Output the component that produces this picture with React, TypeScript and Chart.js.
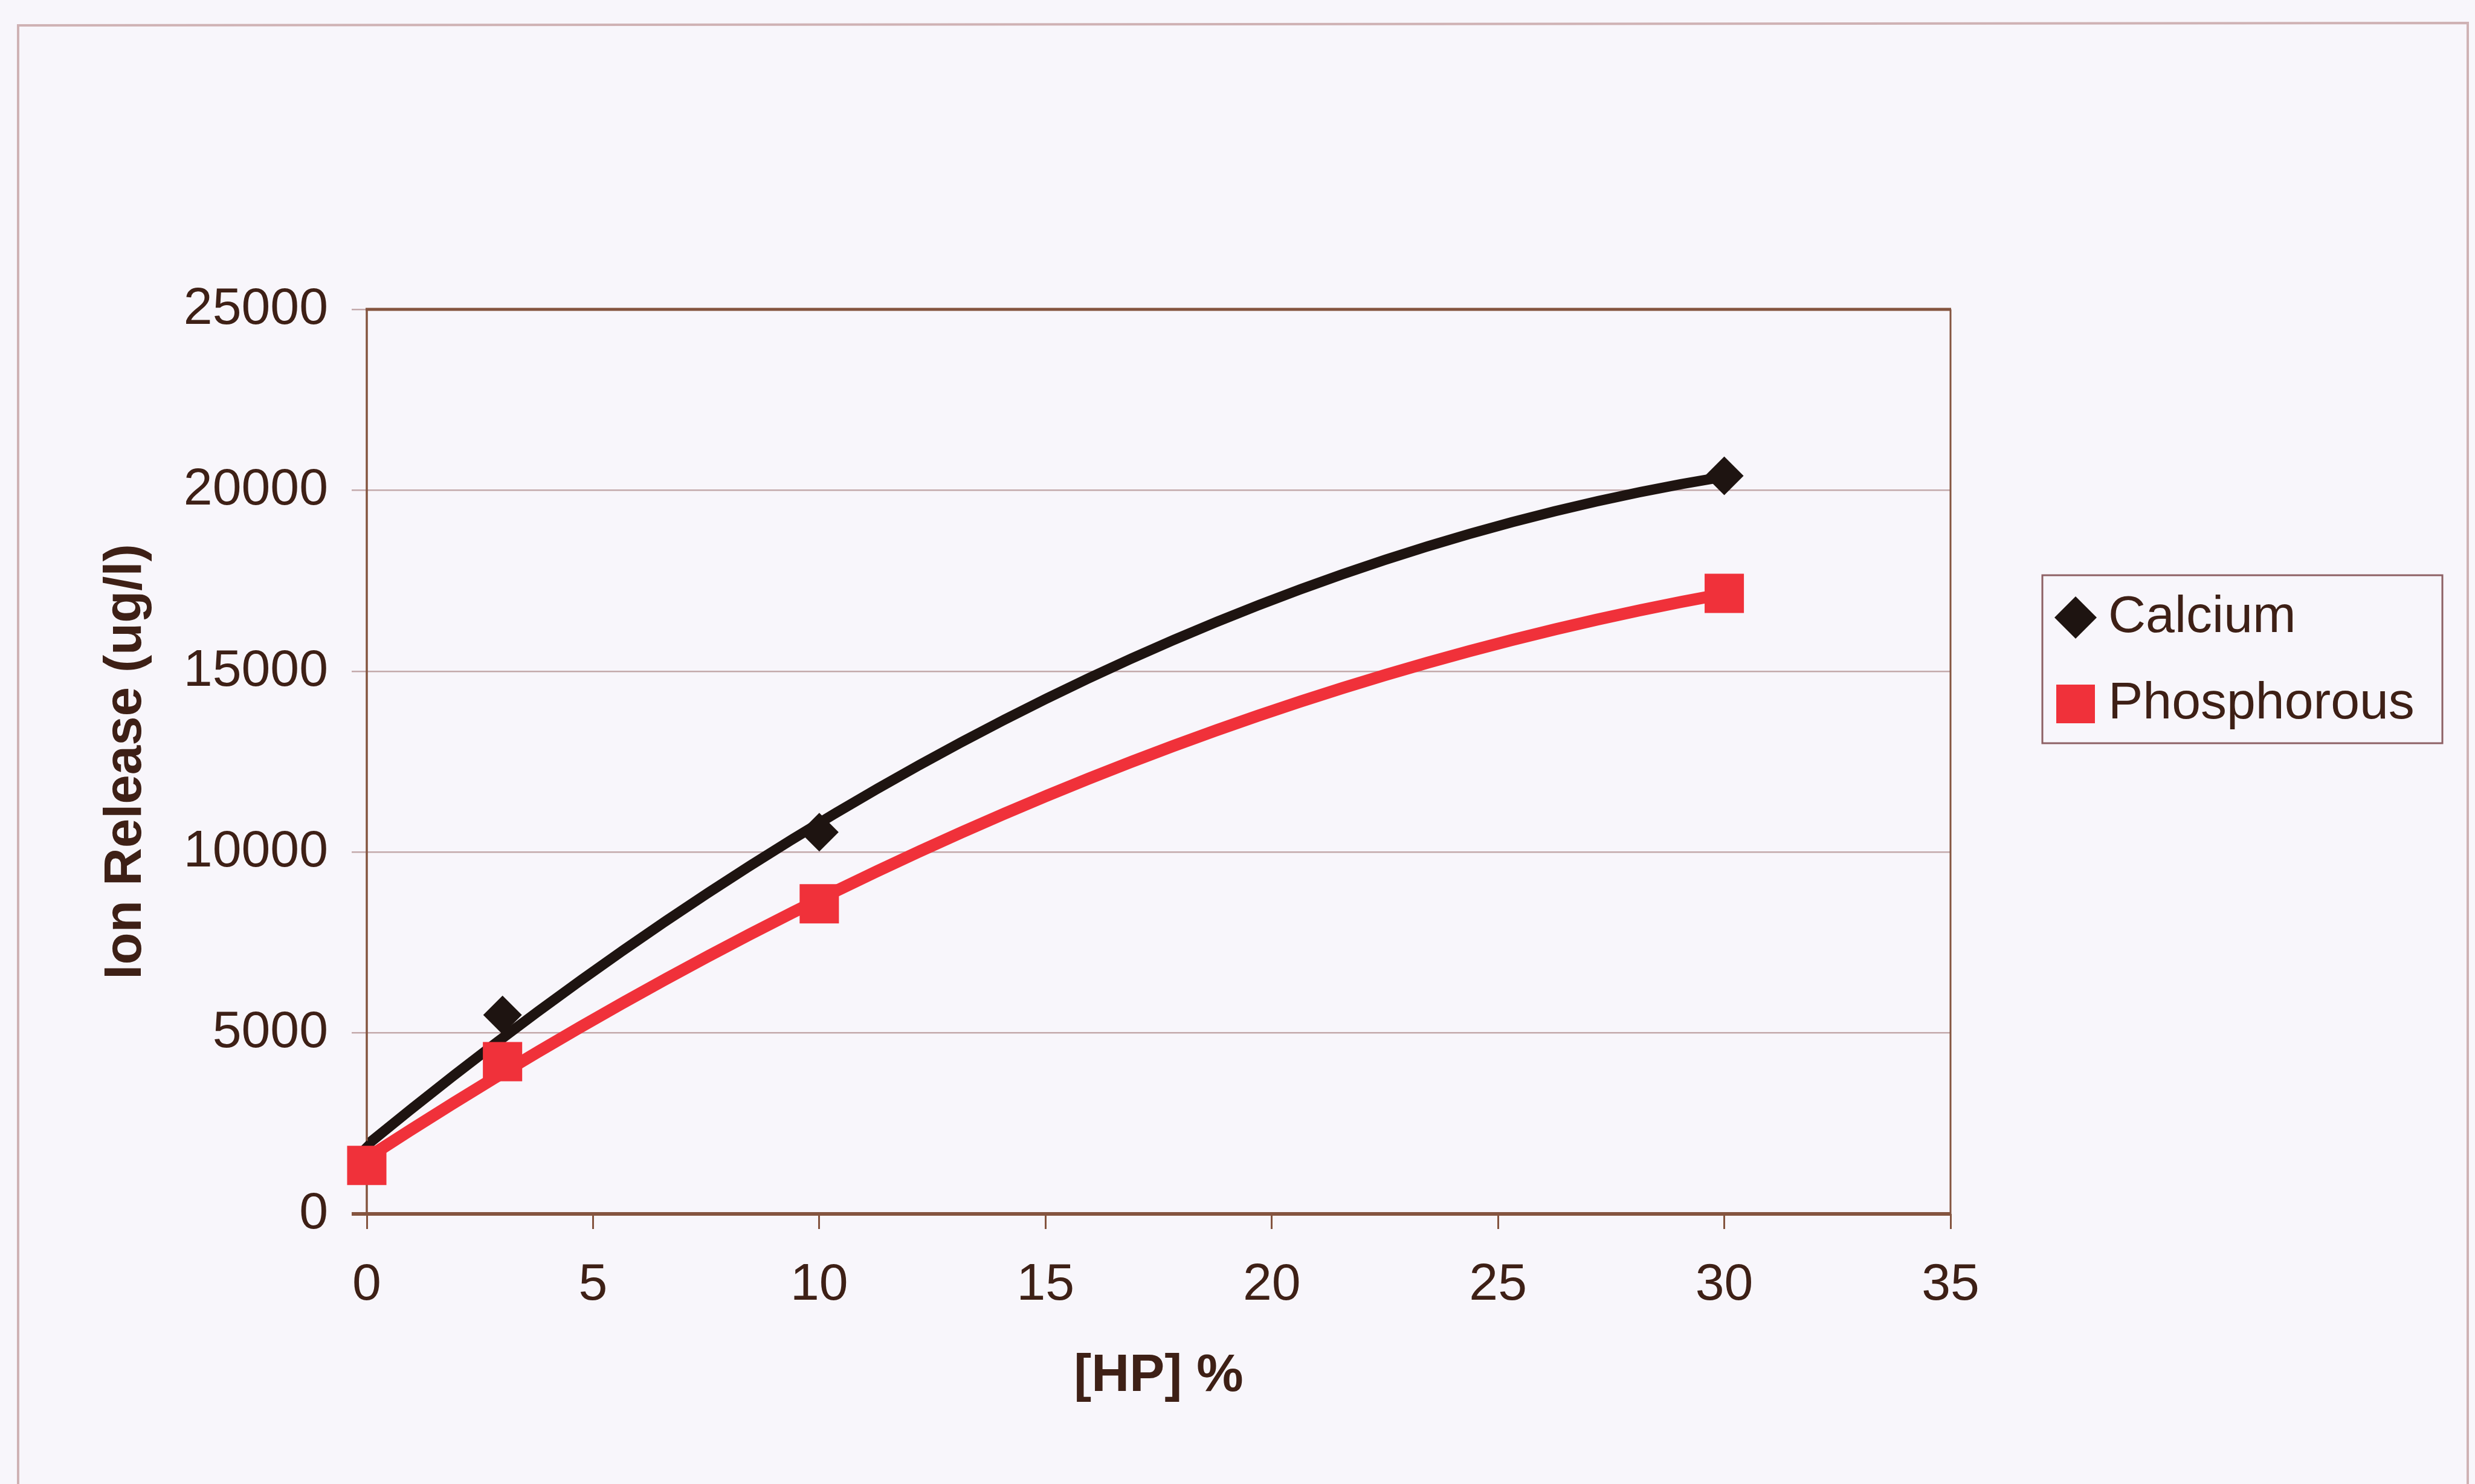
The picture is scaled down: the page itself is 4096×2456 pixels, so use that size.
import React, { useEffect, useRef } from "react";
import { Chart, registerables } from "chart.js";

Chart.register(...registerables);

// Hydrogen peroxide concentration (%) for each sample
const hpPercent = [0, 3, 10, 30];
// Measured ion release (ug/l)
const calcium = [1500, 5500, 10550, 20400];
const phosphorous = [1340, 4210, 8570, 17150];
const seriesNames = ["Calcium", "Phosphorous"];

// Axis ranges and tick steps
const xAxisRange = [0, 35];
const xAxisStep = 5;
const yAxisRange = [0, 25000];
const yAxisStep = 5000;

const axisTitles = { x: "[HP] %", y: "Ion Release (ug/l)" };

const FONT = "'Liberation Sans', Arial, Helvetica, sans-serif";
const TEXT = "#3e2016";
const AXIS = "#84543f";
const GRID = "#c3a9ab";
const BLACK = "#1e1411";
const RED = "#f0313a";

// Second-order least-squares trendline, as the spreadsheet draws it
function quadFit(xs: number[], ys: number[]): [number, number, number] {
  let n = xs.length, s1 = 0, s2 = 0, s3 = 0, s4 = 0, t0 = 0, t1 = 0, t2 = 0;
  for (let i = 0; i < xs.length; i++) {
    const x = xs[i], y = ys[i];
    s1 += x; s2 += x * x; s3 += x * x * x; s4 += x * x * x * x;
    t0 += y; t1 += x * y; t2 += x * x * y;
  }
  const det = (m: number[][]) =>
    m[0][0] * (m[1][1] * m[2][2] - m[1][2] * m[2][1]) -
    m[0][1] * (m[1][0] * m[2][2] - m[1][2] * m[2][0]) +
    m[0][2] * (m[1][0] * m[2][1] - m[1][1] * m[2][0]);
  const M = [[n, s1, s2], [s1, s2, s3], [s2, s3, s4]];
  const v = [t0, t1, t2];
  const D = det(M);
  const col = (k: number) => M.map((row, r) => row.map((val, c) => (c === k ? v[r] : val)));
  return [det(col(0)) / D, det(col(1)) / D, det(col(2)) / D];
}

const trendColors = [BLACK, RED];
const trendWidths = [17, 20];

const pagePlugin = {
  id: "pageFrame",
  beforeDraw(chart: any) {
    const { ctx, width, height } = chart;
    ctx.save();
    ctx.fillStyle = "#f8f6fb";
    ctx.fillRect(0, 0, width, height);
    ctx.strokeStyle = "#cfb2b4";
    ctx.lineWidth = 4;
    ctx.beginPath();
    ctx.moveTo(30, height);
    ctx.lineTo(30, 42);
    ctx.lineTo(4084, 38);
    ctx.lineTo(4084, height);
    ctx.stroke();
    ctx.restore();
  },
};

const trendlinePlugin = {
  id: "trendlines",
  beforeDatasetsDraw(chart: any) {
    const { ctx, chartArea, scales } = chart;
    const xs = scales.x, ys = scales.y;
    ctx.save();
    ctx.beginPath();
    ctx.rect(chartArea.left, chartArea.top, chartArea.right - chartArea.left, chartArea.bottom - chartArea.top);
    ctx.clip();
    chart.data.datasets.forEach((ds: any, i: number) => {
      const px = ds.data.map((p: any) => p.x);
      const py = ds.data.map((p: any) => p.y);
      const [a, b, c] = quadFit(px, py);
      const f = (t: number) => a + b * t + c * t * t;
      const x0 = Math.min(...px), x1 = Math.max(...px);
      const xm = (x0 + x1) / 2;
      const ym = f(x0) + (b + 2 * c * x0) * (x1 - x0) / 2;
      ctx.beginPath();
      ctx.moveTo(xs.getPixelForValue(x0), ys.getPixelForValue(f(x0)));
      ctx.quadraticCurveTo(
        xs.getPixelForValue(xm), ys.getPixelForValue(ym),
        xs.getPixelForValue(x1), ys.getPixelForValue(f(x1))
      );
      ctx.strokeStyle = trendColors[i];
      ctx.lineWidth = trendWidths[i];
      ctx.lineCap = "butt";
      ctx.stroke();
    });
    ctx.restore();

    // plot area frame
    const { left, right, top, bottom } = chartArea;
    ctx.save();
    ctx.strokeStyle = AXIS;
    ctx.lineWidth = 5;
    ctx.beginPath(); ctx.moveTo(left - 2, top); ctx.lineTo(right + 1, top); ctx.stroke();
    ctx.lineWidth = 3;
    ctx.beginPath(); ctx.moveTo(right, top); ctx.lineTo(right, bottom); ctx.stroke();
    ctx.lineWidth = 3.5;
    ctx.beginPath(); ctx.moveTo(left, top); ctx.lineTo(left, bottom); ctx.stroke();
    ctx.lineWidth = 6;
    ctx.beginPath(); ctx.moveTo(left - 25, bottom); ctx.lineTo(right + 1, bottom); ctx.stroke();
    ctx.restore();
  },
};

const legendPlugin = {
  id: "boxedLegend",
  afterDraw(chart: any) {
    const { ctx } = chart;
    ctx.save();
    ctx.strokeStyle = "#8d6064";
    ctx.lineWidth = 3;
    ctx.strokeRect(3380, 952, 662, 278);
    const rows = [1022, 1165];
    chart.data.datasets.forEach((ds: any, i: number) => {
      const cx = 3435, cy = rows[i];
      ctx.fillStyle = ds.pointBackgroundColor;
      ctx.beginPath();
      if (ds.pointStyle === "rectRot") {
        const r = 35;
        ctx.moveTo(cx - r, cy); ctx.lineTo(cx, cy - r); ctx.lineTo(cx + r, cy); ctx.lineTo(cx, cy + r);
        ctx.closePath();
      } else {
        const h = 32;
        ctx.rect(cx - h, cy - h, 2 * h, 2 * h);
      }
      ctx.fill();
      ctx.fillStyle = TEXT;
      ctx.font = `86px ${FONT}`;
      ctx.textAlign = "left";
      ctx.textBaseline = "middle";
      ctx.fillText(ds.label, 3489, cy);
    });
    ctx.restore();
  },
};

export default function App() {
  const canvasRef = useRef<HTMLCanvasElement | null>(null);

  useEffect(() => {
    const canvas = canvasRef.current;
    if (!canvas) return;
    const chart = new Chart(canvas, {
      type: "scatter",
      data: {
        datasets: [
          {
            label: seriesNames[0],
            data: hpPercent.map((x, i) => ({ x, y: calcium[i] })),
            order: 2,
            showLine: false,
            clip: false,
            pointStyle: "rectRot",
            pointRadius: 32,
            pointBackgroundColor: BLACK,
            pointBorderWidth: 0,
            borderColor: BLACK,
          },
          {
            label: seriesNames[1],
            data: hpPercent.map((x, i) => ({ x, y: phosphorous[i] })),
            order: 1,
            showLine: false,
            clip: false,
            pointStyle: "rect",
            pointRadius: 46,
            pointBackgroundColor: RED,
            pointBorderWidth: 0,
            borderColor: RED,
          },
        ],
      },
      options: {
        animation: false,
        responsive: true,
        maintainAspectRatio: false,
        devicePixelRatio: 1,
        layout: { padding: { left: 0, top: 512, right: 4096 - 3228, bottom: 0 } },
        plugins: {
          legend: { display: false },
          tooltip: { enabled: false },
        },
        scales: {
          x: {
            type: "linear",
            min: xAxisRange[0],
            max: xAxisRange[1],
            afterFit: (scale: any) => { scale.height = 447; },
            ticks: {
              stepSize: xAxisStep,
              padding: 42,
              color: TEXT,
              font: { family: FONT, size: 86 },
              maxRotation: 0,
              callback: (v: any) => String(v),
            },
            grid: {
              display: true,
              drawOnChartArea: false,
              drawTicks: true,
              tickLength: 25,
              color: AXIS,
              lineWidth: 3,
            },
            border: { display: false },
            title: {
              display: true,
              text: axisTitles.x,
              color: TEXT,
              font: { family: FONT, size: 87, weight: "bold" },
              padding: { top: 0, bottom: 126 },
            },
          },
          y: {
            type: "linear",
            min: yAxisRange[0],
            max: yAxisRange[1],
            afterFit: (scale: any) => { scale.width = 607; },
            ticks: {
              stepSize: yAxisStep,
              padding: 39,
              color: TEXT,
              font: { family: FONT, size: 86 },
              callback: (v: any) => String(v),
            },
            grid: {
              display: true,
              drawOnChartArea: true,
              drawTicks: true,
              tickLength: 25,
              color: GRID,
              lineWidth: 2.5,
            },
            border: { display: false },
            title: {
              display: true,
              text: axisTitles.y,
              color: TEXT,
              font: { family: FONT, size: 87, weight: "bold" },
              padding: { top: 157, bottom: 0 },
            },
          },
        },
      },
      plugins: [pagePlugin, trendlinePlugin, legendPlugin],
    } as any);
    return () => chart.destroy();
  }, []);

  return (
    <div style={{ position: "fixed", left: 0, top: 0, width: 4096, height: 2456 }}>
      <canvas ref={canvasRef} />
    </div>
  );
}
